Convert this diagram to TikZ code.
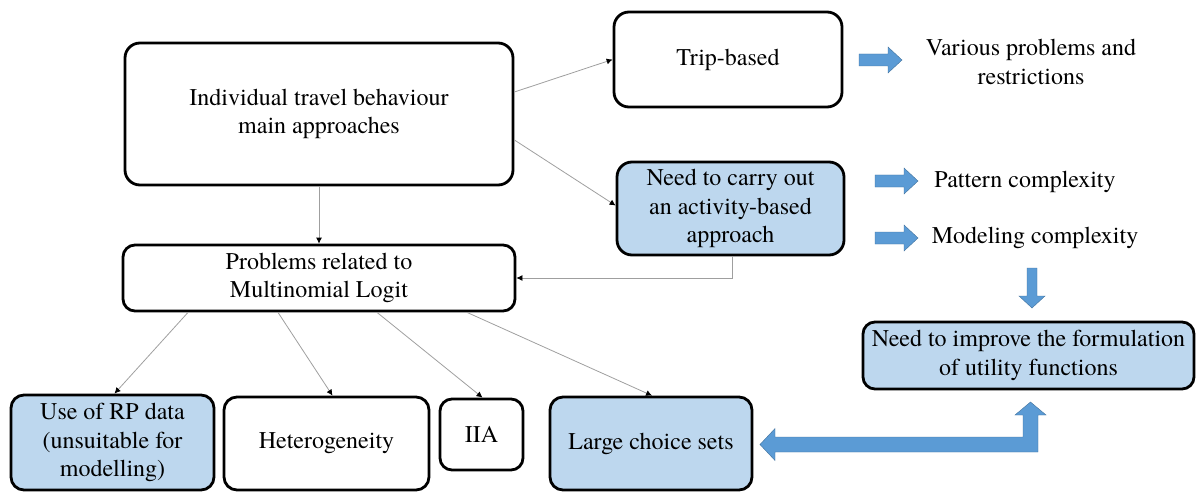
\documentclass[tikz,border=0pt]{standalone}
\usepackage{fontspec}
\setmainfont{TeX Gyre Termes}
\usetikzlibrary{arrows.meta}
\definecolor{boxblue}{HTML}{BDD7EE}
\definecolor{arrowblue}{HTML}{5B9BD5}
\definecolor{arrowedge}{HTML}{41719C}
\begin{document}
\begin{tikzpicture}[x=1pt,y=-1pt,
  box/.style={draw=black, line width=2.8pt, rounded corners=15pt, align=center, inner sep=2pt,
    font=\fontsize{24}{28.5}\selectfont},
  bluebox/.style={box, fill=boxblue},
  lbl/.style={align=center, inner sep=0pt, font=\fontsize{24}{28.5}\selectfont},
  conn/.style={draw=gray!75, line width=0.8pt, -{Latex[length=6pt,width=6pt,color=black]}},
  blockarrow/.style={fill=arrowblue, draw=arrowedge, line width=0.4pt},
  rblk/.pic={\path[blockarrow] (0,-6) -- (29,-6) -- (29,-13) -- (43,0) -- (29,13) -- (29,6) -- (0,6) -- cycle;}
]
\useasboundingbox (0,0) rectangle (1197,492);

% main boxes
\node[box, minimum width=388pt, minimum height=142pt] (main) at (319,114)
  {Individual travel behaviour\\main approaches};
\node[box, minimum width=228pt, minimum height=95pt] (trip) at (728,59.5) {Trip-based};
\node[bluebox, minimum width=227pt, minimum height=93pt] (act) at (730.5,208.5)
  {Need to carry out\\an activity-based\\approach};
\node[box, rounded corners=12pt, minimum width=392pt, minimum height=66pt] (prob) at (319,278)
  {Problems related to\\Multinomial Logit};
\node[bluebox, rounded corners=12pt, minimum width=331pt, minimum height=67pt, inner sep=0pt] (util) at (1028.5,355.5)
  {Need to improve the formulation\\of utility functions};

% bottom boxes
\node[bluebox, rounded corners=13pt, minimum width=203pt, minimum height=95pt] (rp) at (112.5,442.5)
  {Use of RP data\\(unsuitable for\\modelling)};
\node[box, rounded corners=13pt, minimum width=205pt, minimum height=93pt] (het) at (326.5,443.5) {Heterogeneity};
\node[box, rounded corners=12pt, minimum width=83pt, minimum height=71pt] (iia) at (481.5,434.5) {IIA};
\node[bluebox, rounded corners=13pt, minimum width=202pt, minimum height=93pt] (large) at (651,443.5) {Large choice sets};

% side labels
\node[lbl] (various) at (1031,62) {Various problems and\\restrictions};
\node[lbl] (pattern) at (1025,182) {Pattern complexity};
\node[lbl] (modeling) at (1035,238) {Modeling complexity};

% block arrows
\pic at (859,60) {rblk};
\pic at (875,181) {rblk};
\pic at (875,238) {rblk};
\path[blockarrow] (1027,268) -- (1037,268) -- (1037,296) -- (1045,296) -- (1032,308)
  -- (1019,296) -- (1027,296) -- cycle;
\path[blockarrow] (760,444.5) -- (775,428.5) -- (775,437) -- (1023,437) -- (1023,415)
  -- (1015,415) -- (1030.5,402) -- (1046,415) -- (1038,415) -- (1038,452) -- (775,452)
  -- (775,460.5) -- cycle;

% connectors
\draw[conn] ([yshift=22pt]main.east) -- (trip.west);
\draw[conn] ([yshift=-26pt]main.east) -- ([yshift=3pt]act.west);
\draw[conn] (main.south) -- (prob.north);
\draw[conn] ([xshift=2pt]act.south) |- (prob.east);
\draw[conn] ([xshift=-131pt]prob.south) -- ([xshift=2pt]rp.north);
\draw[conn] ([xshift=-41pt]prob.south) -- ([xshift=6pt]het.north);
\draw[conn] ([xshift=58pt]prob.south) -- ([xshift=1pt]iia.north);
\draw[conn] ([xshift=148pt]prob.south) -- ([xshift=1pt]large.north);
\end{tikzpicture}
\end{document}
